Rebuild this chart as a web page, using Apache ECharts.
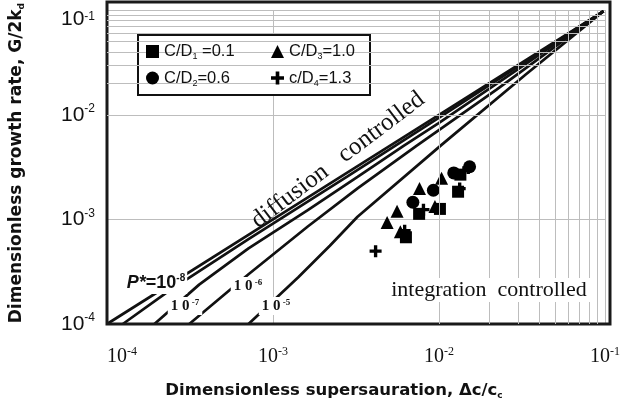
<!DOCTYPE html>
<html><head><meta charset="utf-8">
<script src="https://cdn.jsdelivr.net/npm/echarts@6/dist/echarts.min.js"></script>
<style>html,body{margin:0;padding:0;background:#fff}#c{width:623px;height:419px}</style>
</head><body><div id="c"></div>
<script>
// ---- data ----
const xTickValues = [1e-4, 1e-3, 1e-2, 1e-1];
const yTickValues = [1e-4, 1e-3, 1e-2, 1e-1];

// model curves  [supersaturation, growth rate]
const curveDiffusion = [[1e-4,1e-4],[1e-3,1e-3],[1e-2,1e-2],[0.098,0.098]];
const curveP8 = [[1.245e-4,1e-4],[2.375e-4,2.088e-4],[7.12e-4,6.47e-4],[2.81e-3,2.58e-3],[1.11e-2,1.042e-2],[0.098,0.098]];
const curveP7 = [[1.93e-4,1e-4],[3.59e-4,2.38e-4],[7.12e-4,5.28e-4],[1.62e-3,1.23e-3],[3.23e-3,2.55e-3],[6.15e-3,5.08e-3],[9.95e-3,8.31e-3],[0.098,0.098]];
const curveP6 = [[3.13e-4,1e-4],[7.12e-4,2.99e-4],[1.62e-3,8.55e-4],[3.23e-3,1.98e-3],[7.35e-3,5.08e-3],[2.21e-2,1.73e-2],[0.098,0.098]];
const curveP5 = [[7.12e-4,1e-4],[1.42e-3,2.80e-4],[2.2e-3,5.6e-4],[3.23e-3,1.06e-3],[1.04e-2,5.19e-3],[3.33e-2,2.43e-2],[0.098,0.098]];

// experimental points
const pointsCD1 = [[6.32e-3,6.75e-4],[7.59e-3,1.13e-3],[1.013e-2,1.26e-3],[1.303e-2,1.84e-3],[1.345e-2,2.68e-3]];
const pointsCD2 = [[6.96e-3,1.46e-3],[9.25e-3,1.90e-3],[1.227e-2,2.78e-3],[1.528e-2,3.19e-3]];
const pointsCD3 = [[4.87e-3,9.32e-4],[5.85e-3,7.63e-4],[5.59e-3,1.20e-3],[7.63e-3,1.97e-3],[9.45e-3,1.33e-3],[1.036e-2,2.48e-3]];
const pointsCD4 = [[4.15e-3,4.97e-4],[6.21e-3,7.79e-4],[8.06e-3,1.24e-3],[1.332e-2,1.97e-3],[1.50e-2,3.10e-3]];

const legendNames = ['C/D1', 'C/D2', 'C/D3', 'c/D4'];
const legendLabels = {
  'C/D1': '{a|C/D}{s|1}{a| =0.1}',
  'C/D2': '{a|C/D}{s|2}{a|=0.6}',
  'C/D3': '{a|C/D}{s|3}{a|=1.0}',
  'c/D4': '{a|c/D}{s|4}{a|=1.3}'
};

// ---- build ----
const minorValues = [];
[-4,-3,-2].forEach(k => { for (let m = 2; m <= 9; m++) minorValues.push(m * Math.pow(10, k)); });
const minorLines = minorValues.map(v => ({xAxis: v})).concat(minorValues.map(v => ({yAxis: v})));

const plusPath = 'path://M3.6,0H6.4V3.6H10V6.4H6.4V10H3.6V6.4H0V3.6H3.6Z';
const curveStyle = {color:'#111', width:2.7};
function curve(data){
  return {type:'line', data, symbol:'none', showSymbol:false, smooth:false,
          lineStyle:curveStyle, z:3, silent:true, legendHoverLink:false};
}
const markerStyle = {color:'#000', opacity:1};
const exp10 = v => Math.round(Math.log10(v));

const legendText = {
  formatter: n => legendLabels[n],
  textStyle: { rich: {
    a: {fontFamily:'Liberation Sans', fontSize:16.5, color:'#111', lineHeight:20},
    s: {fontFamily:'Liberation Sans', fontSize:9, color:'#111', lineHeight:8, verticalAlign:'bottom'}
  }}
};

const ySans = {fontFamily:'Liberation Sans', color:'#111'};
const yRich = {
  b:Object.assign({fontSize:21, lineHeight:24}, ySans),
  s:Object.assign({fontSize:12, lineHeight:12, verticalAlign:'top'}, ySans)
};
const yRichTop = {
  b:Object.assign({fontSize:21, lineHeight:17}, ySans),
  s:Object.assign({fontSize:12, lineHeight:8, verticalAlign:'top'}, ySans)
};
const yLabel = v => '{b|10}{s|' + exp10(v) + '}';
const logY = {type:'log', logBase:10, min:1e-4, max:1e-1, interval:1, position:'left',
              axisLine:{show:false}, axisTick:{show:false}};

const option = {
  animation:false,
  backgroundColor:'#fff',
  grid:{left:107, right:13, top:2, bottom:95, show:false},
  xAxis:{
    type:'log', logBase:10, min:1e-4, max:1e-1, interval:1,
    axisLine:{show:false}, axisTick:{show:false},
    splitLine:{show:true, lineStyle:{color:'#bdbdbd', width:1}},
    axisLabel:{
      margin:22, alignMinLabel:'left',
      formatter: v => '{b|10}{s|' + exp10(v) + '}',
      rich:{
        b:{fontFamily:'Liberation Serif', fontSize:20, color:'#111', lineHeight:22},
        s:{fontFamily:'Liberation Serif', fontSize:12, color:'#111', lineHeight:12, verticalAlign:'top'}
      }
    },
    name:'{a|Dimensionless supersauration, Δc/c}{s|c}',
    nameLocation:'middle', nameGap:57,
    nameTextStyle:{padding:[0,44,0,0], rich:{
      a:{fontFamily:'DejaVu Sans', fontWeight:'bold', fontSize:16.5, color:'#111', lineHeight:19},
      s:{fontFamily:'DejaVu Sans', fontWeight:'bold', fontSize:9, color:'#111', lineHeight:8, verticalAlign:'bottom'}
    }}
  },
  yAxis:[
    Object.assign({}, logY, {
      splitLine:{show:true, lineStyle:{color:'#bdbdbd', width:1}},
      axisLabel:{margin:12, formatter: v => exp10(v) === -1 ? '' : yLabel(v), rich:yRich},
      name:'{a|Dimensionless growth rate, G/2k}{s|d}',
      nameLocation:'middle', nameGap:81,
      nameTextStyle:{padding:[0,0,0,8], rich:{
        a:{fontFamily:'DejaVu Sans', fontWeight:'bold', fontSize:17, color:'#111', lineHeight:19},
        s:{fontFamily:'DejaVu Sans', fontWeight:'bold', fontSize:9, color:'#111', lineHeight:8, verticalAlign:'bottom'}
      }}
    }),
    Object.assign({}, logY, {
      splitLine:{show:false},
      axisLabel:{margin:12, verticalAlign:'top',
        formatter: v => exp10(v) === -1 ? yLabel(v) : '', rich:yRichTop}
    })
  ],
  legend:[
    Object.assign({left:141, top:38, orient:'vertical', itemGap:8, itemWidth:13, itemHeight:13,
      data:['C/D1','C/D2'], z:6}, legendText),
    Object.assign({left:266, top:38, orient:'vertical', itemGap:8, itemWidth:13, itemHeight:13,
      data:['C/D3','c/D4'], z:6}, legendText)
  ],
  series:[
    {type:'line', data:[], silent:true, z:1,
     markLine:{silent:true, symbol:'none', label:{show:false}, animation:false,
       lineStyle:{color:'#bdbdbd', width:1, type:'solid'}, data:minorLines}},
    curve(curveDiffusion), curve(curveP8), curve(curveP7), curve(curveP6), curve(curveP5),
    {type:'scatter', name:'C/D1', data:pointsCD1, symbol:'rect', symbolSize:12, itemStyle:markerStyle, z:4},
    {type:'scatter', name:'C/D2', data:pointsCD2, symbol:'circle', symbolSize:13, itemStyle:markerStyle, z:4},
    {type:'scatter', name:'C/D3', data:pointsCD3, symbol:'triangle', symbolSize:13, itemStyle:markerStyle, z:4},
    {type:'scatter', name:'c/D4', data:pointsCD4, symbol:plusPath, symbolSize:12, itemStyle:markerStyle, z:4}
  ],
  graphic:[
    {type:'rect', z:5, shape:{x:107, y:2, width:503, height:322}, style:{fill:null, stroke:'#1a1a1a', lineWidth:3}},
    {type:'rect', z:5, shape:{x:138, y:35, width:232, height:60}, style:{fill:'#fff', stroke:'#111', lineWidth:2}},
    {type:'text', z:6, x:338, y:160, rotation:37*Math.PI/180,
     style:{text:'diffusion   controlled', font:'25px "Liberation Serif"', fill:'#111', align:'center', verticalAlign:'middle'}},
    {type:'text', z:6, x:489, y:290,
     style:{text:'integration  controlled', font:'22px "Liberation Serif"', fill:'#111', align:'center', verticalAlign:'middle',
            backgroundColor:'#fff', padding:[1,5]}},
    {type:'text', z:6, x:156, y:283,
     style:{text:'{i|P*}{b|=10}{s|-8}', align:'center', verticalAlign:'middle', backgroundColor:'#fff', padding:[1,2],
       rich:{i:{font:'italic bold 18px "Liberation Sans"', fill:'#111', lineHeight:20},
             b:{font:'bold 18px "Liberation Sans"', fill:'#111', lineHeight:20},
             s:{font:'bold 10px "Liberation Sans"', fill:'#111', lineHeight:10, verticalAlign:'top'}}}},
    {type:'text', z:6, x:185, y:306,
     style:{text:'{b|1 0}{s| -7}', align:'center', verticalAlign:'middle', backgroundColor:'#fff', padding:[1,3],
       rich:{b:{font:'bold 15px "Liberation Serif"', fill:'#111', lineHeight:16},
             s:{font:'bold 9px "Liberation Serif"', fill:'#111', lineHeight:9, verticalAlign:'top'}}}},
    {type:'text', z:6, x:248, y:286,
     style:{text:'{b|1 0}{s| -6}', align:'center', verticalAlign:'middle', backgroundColor:'#fff', padding:[1,3],
       rich:{b:{font:'bold 15px "Liberation Serif"', fill:'#111', lineHeight:16},
             s:{font:'bold 9px "Liberation Serif"', fill:'#111', lineHeight:9, verticalAlign:'top'}}}},
    {type:'text', z:6, x:276, y:306,
     style:{text:'{b|1 0}{s| -5}', align:'center', verticalAlign:'middle', backgroundColor:'#fff', padding:[1,3],
       rich:{b:{font:'bold 15px "Liberation Serif"', fill:'#111', lineHeight:16},
             s:{font:'bold 9px "Liberation Serif"', fill:'#111', lineHeight:9, verticalAlign:'top'}}}}
  ]
};
const chart = echarts.init(document.getElementById('c'));
chart.setOption(option);
</script>
</body></html>
